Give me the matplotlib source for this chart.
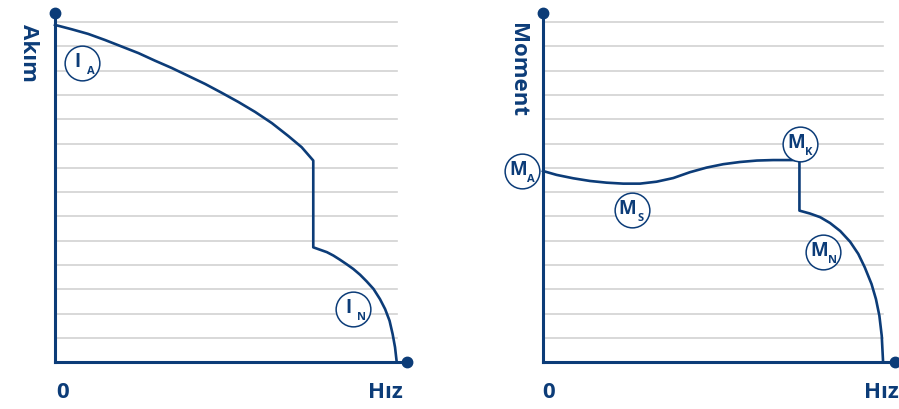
import matplotlib
matplotlib.use("Agg")
import matplotlib.pyplot as plt

plt.rcParams['font.family'] = ['Open Sans', 'DejaVu Sans']

BLUE = "#0c3c78"
GRID = "#d2d2d2"

# speed as fraction of max speed, values in grid units
grid_levels = list(range(1, 15))

akim_x = [0.0, 0.049, 0.097, 0.146, 0.195, 0.244, 0.292, 0.341, 0.390,
          0.439, 0.487, 0.536, 0.585, 0.634, 0.682, 0.721, 0.755,
          0.755, 0.775, 0.795, 0.814, 0.833, 0.853, 0.872, 0.892, 0.911,
          0.931, 0.950, 0.965, 0.978, 0.987, 0.994, 0.999]
akim_y = [13.88, 13.70, 13.51, 13.26, 12.99, 12.72, 12.41, 12.11, 11.78,
          11.45, 11.09, 10.71, 10.30, 9.84, 9.31, 8.85, 8.30,
          4.73, 4.63, 4.53, 4.39, 4.22, 4.03, 3.84, 3.60, 3.33,
          3.02, 2.60, 2.19, 1.71, 1.16, 0.62, 0.0]

moment_x = [0.0, 0.040, 0.089, 0.138, 0.187, 0.236, 0.285, 0.334, 0.383,
            0.432, 0.481, 0.530, 0.579, 0.629, 0.677, 0.754,
            0.754, 0.785, 0.815, 0.844, 0.874, 0.903, 0.927, 0.946, 0.966,
            0.979, 0.989, 0.996, 1.0]
moment_y = [7.87, 7.71, 7.57, 7.46, 7.39, 7.35, 7.35, 7.43, 7.58,
            7.82, 8.01, 8.15, 8.24, 8.30, 8.32, 8.32,
            6.24, 6.12, 5.97, 5.73, 5.40, 4.96, 4.46, 3.91, 3.22,
            2.60, 1.92, 1.09, 0.0]

akim_labels = [("I", "A", 0.078, 12.30), ("I", "N", 0.870, 2.19)]
moment_labels = [("M", "A", -0.061, 7.86), ("M", "S", 0.261, 6.28),
                 ("M", "K", 0.756, 8.98), ("M", "N", 0.824, 4.53)]

fig = plt.figure(figsize=(8.99, 4.10), dpi=100)


def draw_panel(rect, xmax, ymax, xs, ys, labels):
    ax = fig.add_axes(rect)
    ax.set_xlim(0, xmax)
    ax.set_ylim(0, ymax)
    ax.axis("off")
    for g in grid_levels:
        ax.plot([0, 1.0], [g, g], color=GRID, lw=1.2, zorder=1)
    # axes as thick lines with end dots
    ax.plot([0, 0], [0, ymax], color=BLUE, lw=2.2, clip_on=False, zorder=3,
            solid_capstyle="projecting")
    ax.plot([0, xmax], [0, 0], color=BLUE, lw=2.2, clip_on=False, zorder=3,
            solid_capstyle="projecting")
    ax.plot([0], [ymax], "o", color=BLUE, ms=7.5, clip_on=False, zorder=4)
    ax.plot([xmax], [0], "o", color=BLUE, ms=7.5, clip_on=False, zorder=4)
    ax.plot(xs, ys, color=BLUE, lw=1.9, zorder=3, clip_on=False,
            solid_joinstyle="round")
    for main, sub, lx, ly in labels:
        ax.plot([lx], [ly], "o", ms=25, mfc="white", mec=BLUE, mew=1.1,
                clip_on=False, zorder=5)
        ax.annotate(main, (lx, ly), xytext=(-3, 1.5), textcoords="offset points",
                    ha="center", va="center", fontsize=13.5, fontweight="bold",
                    color=BLUE, zorder=6, annotation_clip=False)
        ax.annotate(sub, (lx, ly), xytext=(6.5, -5.5), textcoords="offset points",
                    ha="center", va="center", fontsize=8, fontweight="bold",
                    color=BLUE, zorder=6, annotation_clip=False)
    return ax


axL = draw_panel([55 / 899, (410 - 363.3) / 410, (407 - 55) / 899, 349.3 / 410],
                 1.029, 14.37, akim_x, akim_y, akim_labels)
axR = draw_panel([543 / 899, (410 - 363.3) / 410, (895 - 543) / 899, 349.3 / 410],
                 1.035, 14.37, moment_x, moment_y, moment_labels)

txt = dict(color=BLUE, fontsize=16, fontweight="bold")
fig.text(28 / 899, 1 - 53 / 410, "Akım", rotation=270, ha="center", va="center", **txt)
fig.text(518 / 899, 1 - 70 / 410, "Moment", rotation=270, ha="center", va="center", **txt)
fig.text(63 / 899, 1 - 393 / 410, "0", ha="center", va="center", **txt)
fig.text(385 / 899, 1 - 393 / 410, "Hız", ha="center", va="center", **txt)
fig.text(549 / 899, 1 - 393 / 410, "0", ha="center", va="center", **txt)
fig.text(881 / 899, 1 - 393 / 410, "Hız", ha="center", va="center", **txt)

fig.savefig("out.png", dpi=100)
